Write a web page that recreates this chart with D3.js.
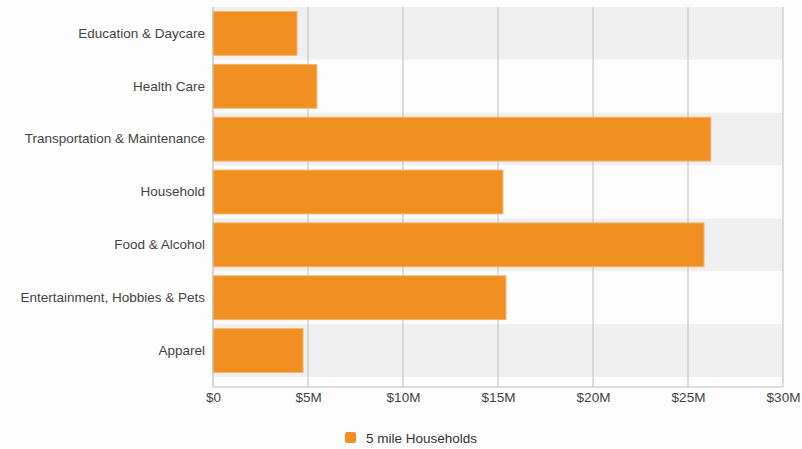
<!DOCTYPE html>
<html><head><meta charset="utf-8">
<script src="https://cdn.jsdelivr.net/npm/d3@7/dist/d3.min.js"></script>
<style>body{margin:0;background:#fdfdfd;}svg{display:block;font-family:"Liberation Sans",Arial,sans-serif;}</style>
</head><body>
<svg id="c" width="802" height="449"></svg>
<script>
const categories = ["Education & Daycare","Health Care","Transportation & Maintenance","Household","Food & Alcohol","Entertainment, Hobbies & Pets","Apparel"];
const values = [4.42e6, 5.47e6, 26.2e6, 15.26e6, 25.84e6, 15.42e6, 4.74e6];
const tickValues = [0, 5e6, 10e6, 15e6, 20e6, 25e6, 30e6];
const tickLabels = ["$0","$5M","$10M","$15M","$20M","$25M","$30M"];
const seriesName = "5 mile Households";

const svg = d3.select("#c");
const L = 213, R = 783, T = 7, B = 387, bandBottom = 377;
const FS = 13.5;
const x = d3.scaleLinear().domain([0, 30e6]).range([L, R]);
const yb = d3.scaleBand().domain(categories).range([T, bandBottom]);
const y = d3.scaleBand().domain(categories).range([T, bandBottom]).paddingInner(0.17).paddingOuter(0.085);

// alternating bands
svg.append("g").selectAll("rect").data(categories).join("rect")
  .attr("x", L).attr("width", R - L)
  .attr("y", d => yb(d)).attr("height", yb.bandwidth())
  .attr("fill", (d,i) => i % 2 === 0 ? "#f0f0f0" : "#fdfdfd");

// gridlines
svg.append("g").selectAll("line").data(tickValues.slice(1)).join("line")
  .attr("x1", d => x(d)).attr("x2", d => x(d)).attr("y1", T).attr("y2", B)
  .attr("stroke", "#c8c8c8").attr("stroke-width", 1.2);

// bars
svg.append("g").selectAll("rect").data(values).join("rect")
  .attr("x", L).attr("y", (d,i) => y(categories[i]))
  .attr("width", d => x(d) - L).attr("height", y.bandwidth())
  .attr("fill", "#f09022").attr("stroke", "#f6b56a").attr("stroke-width", 1);

// axes lines
svg.append("line").attr("x1", L).attr("x2", L).attr("y1", T).attr("y2", B).attr("stroke", "#bdbdbd").attr("stroke-width", 1.2);
svg.append("line").attr("x1", L).attr("x2", R).attr("y1", B).attr("y2", B).attr("stroke", "#bdbdbd").attr("stroke-width", 1.2);

// x axis labels
const xAxis = d3.axisBottom(x).tickValues(tickValues).tickFormat((d,i) => tickLabels[i]).tickSize(0).tickPadding(5);
const gx = svg.append("g").attr("transform", `translate(0,${B})`).call(xAxis);
gx.select(".domain").remove();
gx.selectAll("text").attr("font-size", FS).attr("fill", "#444").attr("font-family", "Liberation Sans, Arial, sans-serif");

// y axis labels
const yAxis = d3.axisLeft(yb).tickSize(0).tickPadding(8);
const gy = svg.append("g").attr("transform", `translate(${L},0)`).call(yAxis);
gy.select(".domain").remove();
gy.selectAll("text").attr("font-size", FS).attr("fill", "#444").attr("font-family", "Liberation Sans, Arial, sans-serif");

// legend
const lg = svg.append("g").attr("transform", "translate(345,432)");
lg.append("rect").attr("width", 11).attr("height", 11).attr("rx", 2).attr("fill", "#f09022");
lg.append("text").attr("x", 21).attr("y", 10.5).attr("font-size", FS).attr("fill", "#333").text(seriesName);
</script>
</body></html>
